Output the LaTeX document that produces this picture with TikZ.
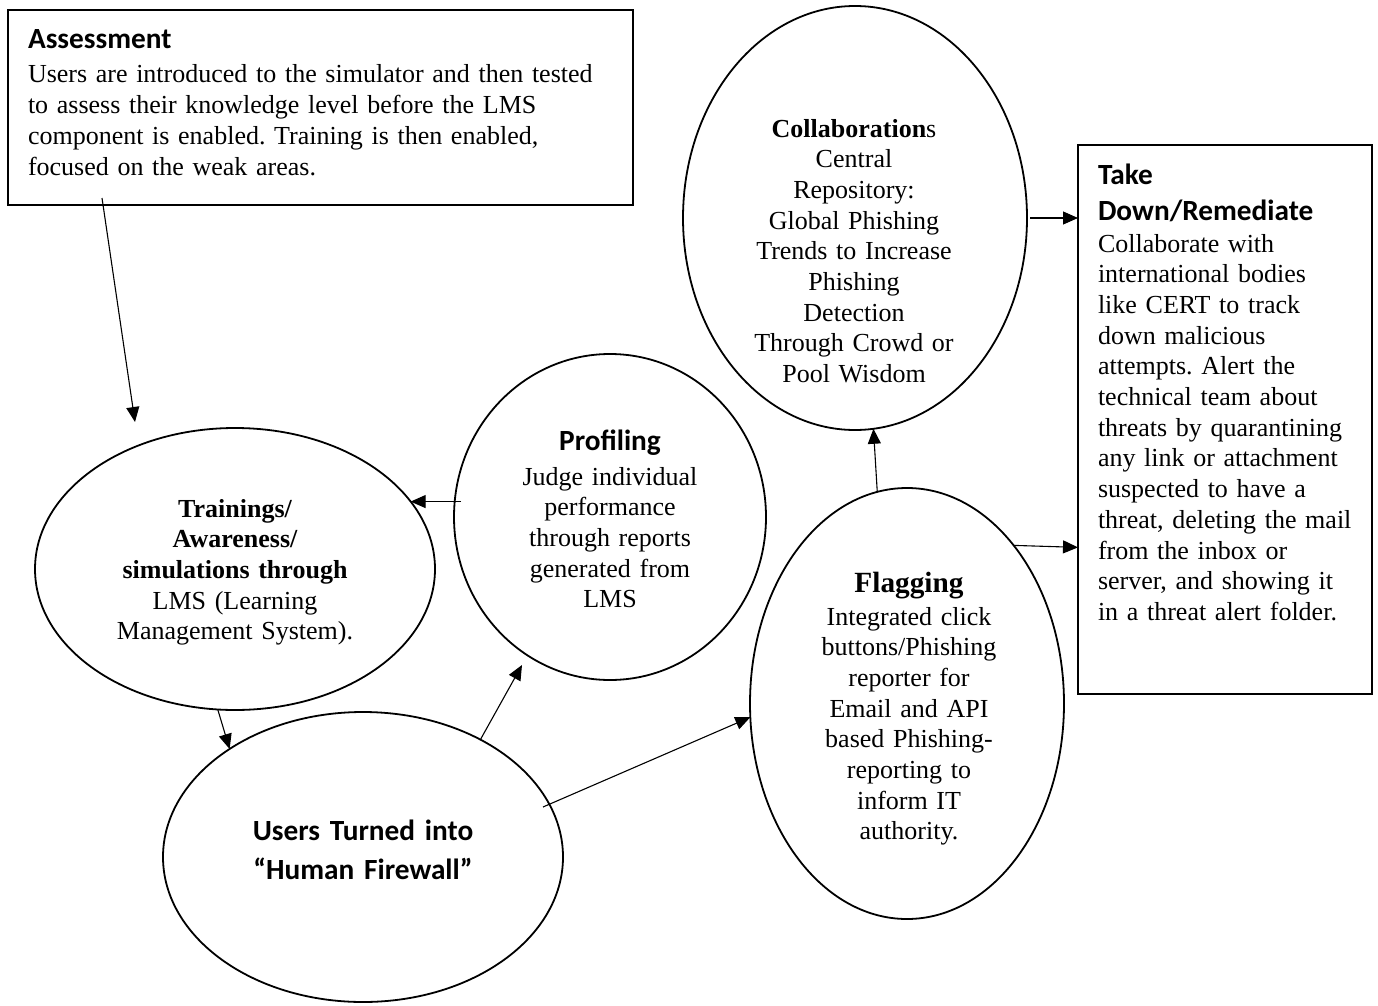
\documentclass[tikz,border=0pt]{standalone}
\usepackage{fontspec}
\setmainfont{Liberation Serif}
\newfontfamily\calibrifont{Carlito}
\usetikzlibrary{arrows.meta,shapes.geometric,calc}
\frenchspacing
\newcommand\bodyfs{\fontsize{26.0}{30.7}\selectfont}
\newcommand\ttlfs{\calibrifont\bfseries\fontsize{29.3}{30.7}\selectfont}
\begin{document}
\begin{tikzpicture}[x=1pt,y=-1pt,
  shp/.style={draw, line width=1.8pt, inner sep=0pt, outer sep=0pt},
  oval/.style={shp, ellipse},
  panel/.style={shp, rectangle},
  txt/.style={inner sep=0pt, outer sep=0pt, font=\bodyfs, align=center},
  conn/.style={line width=1.1pt, -{Triangle[length=15pt,width=13pt]}}]
\useasboundingbox (0,0) rectangle (1378,1006);

% shapes
\node[panel, minimum width=625pt, minimum height=195pt] (as) at (320.5,107.5) {};
\node[panel, minimum width=294pt, minimum height=549pt] (td) at (1225,419.5) {};
\node[oval, minimum width=344pt, minimum height=424pt] (co) at (855,218) {};
\node[oval, minimum width=312pt, minimum height=326pt] (pr) at (610,517) {};
\node[oval, minimum width=400pt, minimum height=282pt] (tr) at (235,569) {};
\node[oval, minimum width=400pt, minimum height=290pt] (us) at (363,857) {};
\node[oval, minimum width=314pt, minimum height=431pt] (fl) at (907,703.5) {};

% texts
\node[txt, text width=600pt, align=left, anchor=base west] (as-t) at (28,49)
  {{\ttlfs Assessment}\\[3.3pt]
   Users are introduced to the simulator and then tested\\
   to assess their knowledge level before the LMS\\
   component is enabled. Training is then enabled,\\
   focused on the weak areas.};

\node[txt, text width=270pt, align=left, anchor=base west] (td-t) at (1098,184)
  {{\ttlfs Take\\[5.3pt] Down/Remediate}\\[1.3pt]
   Collaborate with\\ international bodies\\ like CERT to track\\ down malicious\\
   attempts. Alert the\\ technical team about\\ threats by quarantining\\
   any link or attachment\\ suspected to have a\\ threat, deleting the mail\\
   from the inbox or\\ server, and showing it\\ in a threat alert folder.};

\node[txt, text width=300pt, anchor=base] (co-t) at (854,137)
  {{\bfseries Collaboration}s\\ Central\\ Repository:\\ Global Phishing\\
   Trends to Increase\\ Phishing\\ Detection\\ Through Crowd or\\ Pool Wisdom};

\node[txt, text width=280pt, anchor=base] (pr-t) at (610,450)
  {{\ttlfs Profiling}\\[4.3pt] Judge individual\\ performance\\ through reports\\
   generated from\\ LMS};

\node[txt, text width=340pt, anchor=base] (tr-t) at (235,517)
  {{\bfseries Trainings/\\ Awareness/\\ simulations through}\\ LMS (Learning\\
   Management System).};

\node[txt, text width=340pt, anchor=base,
      font=\calibrifont\bfseries\fontsize{29.3}{39}\selectfont] (us-t) at (363,840)
  {Users Turned into\\ “Human Firewall”};

\node[txt, text width=280pt, anchor=base] (fl-t) at (909,592)
  {{\bfseries\fontsize{29.3}{30.7}\selectfont Flagging}\\[2.3pt]
   Integrated click\\ buttons/Phishing\\ reporter for\\ Email and API\\
   based Phishing-\\ reporting to\\ inform IT\\ authority.};

% free ends
\coordinate (a-end) at (135,422);
\coordinate (p-end) at (522,665);

% connectors
\draw[conn] ([xshift=94pt,yshift=7pt]as.south west) -- (a-end);
\draw[conn] ($(pr.west |- tr.21.9)+(7,0)$) -- (tr.21.9);
\draw[conn] (tr.-97) -- (us.141.3);
\draw[conn] (us.45.5) -- (p-end);
\draw[conn] ([shift={(180,-50)}]us.center) -- (fl.185);
\draw[conn] (fl.98.3) -- (co.-85);
\draw[conn] (fl.56.4) -- ($(fl.56.4 -| td.west)+(0,2)$);
\draw[conn] ([xshift=3pt]co.east) -- (co.east -| td.west);
\end{tikzpicture}
\end{document}
